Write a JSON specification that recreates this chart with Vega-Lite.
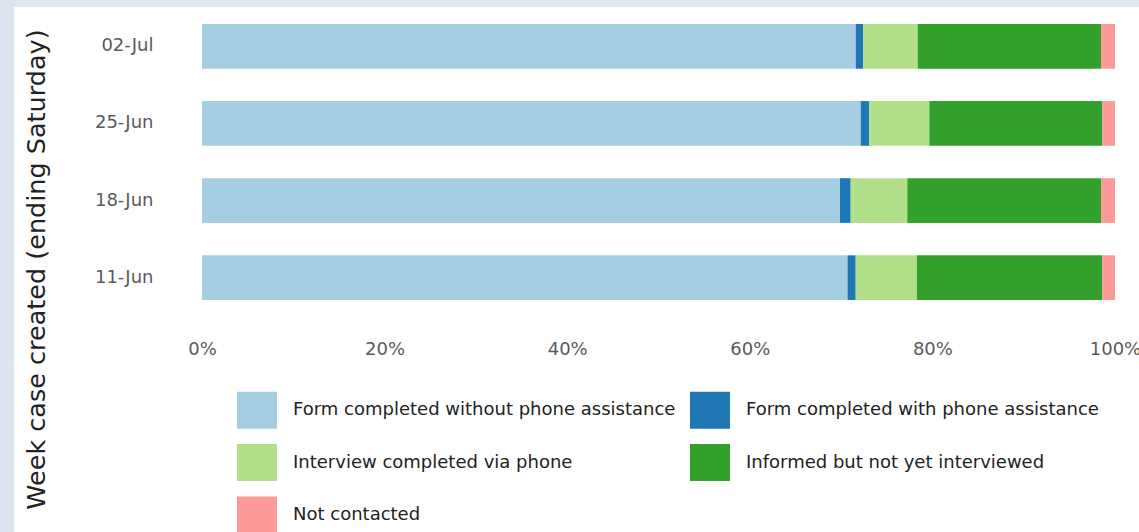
{
  "$schema": "https://vega.github.io/schema/vega-lite/v6.json",
  "width": 1125,
  "height": 525,
  "autosize": {"type": "none"},
  "padding": {"left": 14, "top": 7, "right": 0, "bottom": 0},
  "background": "#dce5f0",
  "config": {"view": {"fill": "white", "stroke": null}, "font": "DejaVu Sans"},
  "data": {
    "values": [
      {"week": "02-Jul", "status": "Form completed without phone assistance", "ord": 1, "pct": 71.6},
      {"week": "02-Jul", "status": "Form completed with phone assistance", "ord": 2, "pct": 0.83},
      {"week": "02-Jul", "status": "Interview completed via phone", "ord": 3, "pct": 5.96},
      {"week": "02-Jul", "status": "Informed but not yet interviewed", "ord": 4, "pct": 20.08},
      {"week": "02-Jul", "status": "Not contacted", "ord": 5, "pct": 1.53},
      {"week": "25-Jun", "status": "Form completed without phone assistance", "ord": 1, "pct": 72.15},
      {"week": "25-Jun", "status": "Form completed with phone assistance", "ord": 2, "pct": 0.94},
      {"week": "25-Jun", "status": "Interview completed via phone", "ord": 3, "pct": 6.57},
      {"week": "25-Jun", "status": "Informed but not yet interviewed", "ord": 4, "pct": 18.95},
      {"week": "25-Jun", "status": "Not contacted", "ord": 5, "pct": 1.39},
      {"week": "18-Jun", "status": "Form completed without phone assistance", "ord": 1, "pct": 69.88},
      {"week": "18-Jun", "status": "Form completed with phone assistance", "ord": 2, "pct": 1.17},
      {"week": "18-Jun", "status": "Interview completed via phone", "ord": 3, "pct": 6.2},
      {"week": "18-Jun", "status": "Informed but not yet interviewed", "ord": 4, "pct": 21.22},
      {"week": "18-Jun", "status": "Not contacted", "ord": 5, "pct": 1.53},
      {"week": "11-Jun", "status": "Form completed without phone assistance", "ord": 1, "pct": 70.7},
      {"week": "11-Jun", "status": "Form completed with phone assistance", "ord": 2, "pct": 0.9},
      {"week": "11-Jun", "status": "Interview completed via phone", "ord": 3, "pct": 6.7},
      {"week": "11-Jun", "status": "Informed but not yet interviewed", "ord": 4, "pct": 20.3},
      {"week": "11-Jun", "status": "Not contacted", "ord": 5, "pct": 1.4}
    ]
  },
  "mark": {"type": "bar"},
  "encoding": {
    "y": {
      "field": "week",
      "type": "nominal",
      "sort": ["02-Jul", "25-Jun", "18-Jun", "11-Jun"],
      "scale": {"range": [17, 293], "paddingInner": 0.42, "paddingOuter": 0},
      "axis": {
        "title": "Week case created (ending Saturday)",
        "ticks": false,
        "domain": false,
        "grid": false,
        "labelPadding": 0,
        "offset": -139,
        "labelFontSize": 18,
        "labelColor": "#5a5a5a",
        "titleFontSize": 25.5,
        "titleColor": "#222222",
        "titleFontWeight": "normal",
        "titleAngle": 270,
        "titleX": -117,
        "titleY": 262,
        "titleAlign": "center",
        "titleBaseline": "middle"
      }
    },
    "x": {
      "field": "pct",
      "type": "quantitative",
      "stack": "normalize",
      "scale": {"domain": [0, 1], "range": [188, 1101], "nice": false},
      "axis": {
        "format": "%",
        "title": null,
        "ticks": false,
        "domain": false,
        "grid": false,
        "labelPadding": 0,
        "offset": -183,
        "labelBaseline": "middle",
        "labelFontSize": 18,
        "labelColor": "#5a5a5a",
        "values": [0, 0.2, 0.4, 0.6, 0.8, 1],
        "labelFlush": false,
        "labelOverlap": false,
        "labelBound": false
      }
    },
    "color": {
      "field": "status",
      "type": "nominal",
      "scale": {
        "domain": [
          "Form completed without phone assistance",
          "Form completed with phone assistance",
          "Interview completed via phone",
          "Informed but not yet interviewed",
          "Not contacted"
        ],
        "range": ["#a6cee3", "#1f78b4", "#b2df8a", "#33a02c", "#fb9a99"]
      },
      "legend": {
        "orient": "none",
        "legendX": 223,
        "legendY": 383,
        "direction": "horizontal",
        "columns": 2,
        "title": null,
        "symbolType": "M-1,-0.925H1V0.925H-1Z",
        "symbolSize": 1600,
        "symbolStrokeWidth": 0,
        "symbolOpacity": 1,
        "labelFontSize": 18,
        "labelColor": "#222222",
        "labelOffset": 16,
        "labelLimit": 0,
        "rowPadding": 13.5,
        "columnPadding": 14,
        "padding": 0
      }
    },
    "order": {"field": "ord", "type": "quantitative"}
  }
}
